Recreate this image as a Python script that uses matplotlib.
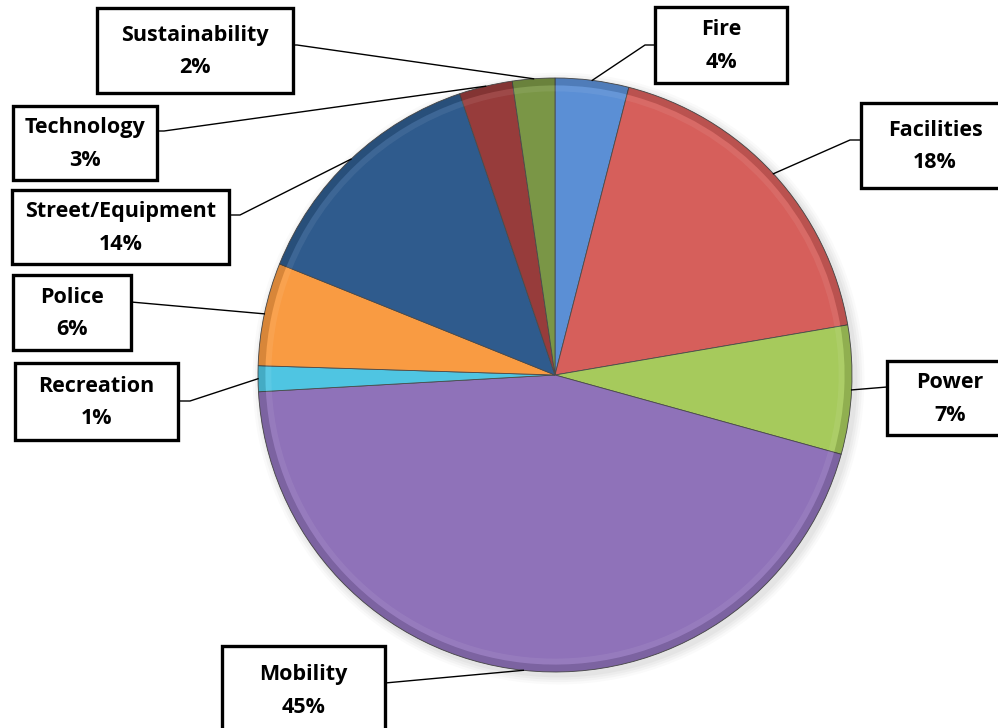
import numpy as np
import matplotlib
import matplotlib.pyplot as plt
from matplotlib.patches import Rectangle, Circle, Wedge

matplotlib.rc('font', family=['Open Sans', 'DejaVu Sans'], weight='bold')

# data (clockwise from 12 o'clock)
categories = ['Fire', 'Facilities', 'Power', 'Mobility', 'Recreation',
              'Police', 'Street/Equipment', 'Technology', 'Sustainability']
shares = [4.0, 18.3, 7.0, 44.8, 1.4, 5.6, 13.7, 2.9, 2.3]
colors = ['#5b8fd5', '#d65f5b', '#a6ca5c', '#8f72b9', '#4fc5e2',
          '#f99b42', '#2f5b8d', '#973c3b', '#7a9646']

# layout in pixels of the 998x728 picture (x0, y0, x1, y1), y downward
W, H = 998, 728
cx, cy, R = 555, 375, 297
boxes = {
    'Fire': (655, 7, 787, 83),
    'Facilities': (861, 103, 1009, 188),
    'Power': (887, 361, 1013, 435),
    'Mobility': (222, 646, 385, 734),
    'Recreation': (15, 363, 178, 440),
    'Police': (13, 275, 131, 350),
    'Street/Equipment': (12, 190, 229, 264),
    'Technology': (13, 106, 157, 180),
    'Sustainability': (97, 8, 293, 93),
}
# leader: point on box edge, then elbow (or None)
leaders = {
    'Fire': ((655, 45), (645, 45)),
    'Facilities': ((861, 140), (850, 140)),
    'Power': ((887, 387), None),
    'Mobility': ((385, 683), None),
    'Recreation': ((178, 401), (190, 401)),
    'Police': ((131, 302), None),
    'Street/Equipment': ((229, 215), (240, 215)),
    'Technology': ((157, 131), (164, 131)),
    'Sustainability': ((293, 45), (297, 45)),
}


def px(p):
    return ((p[0] - cx) / R, (cy - p[1]) / R)


fig = plt.figure(figsize=(W / 100, H / 100), dpi=100)
ax = fig.add_axes([0, 0, 1, 1])

# soft shadow round the pie
for i, a in enumerate([0.04, 0.05, 0.06, 0.07]):
    ax.add_patch(Circle((0.012, -0.012), 1.03 - i * 0.008, color='#808080',
                        alpha=a, lw=0, zorder=0))

wedges, _ = ax.pie(shares, colors=colors, startangle=90, counterclock=False,
                   radius=1, center=(0, 0), frame=True,
                   wedgeprops=dict(edgecolor='#4a4a4a', linewidth=0.6))
ax.set_xlim(-cx / R, (W - cx) / R)
ax.set_ylim((cy - H) / R, cy / R)
ax.set_aspect('equal')
ax.axis('off')

# bevel: darker rim and a faint light band inside it
for w in wedges:
    ax.add_patch(Wedge((0, 0), 1.0, w.theta1, w.theta2, width=0.025,
                       color='black', alpha=0.13, lw=0, zorder=3))
    ax.add_patch(Wedge((0, 0), 0.975, w.theta1, w.theta2, width=0.02,
                       color='white', alpha=0.07, lw=0, zorder=3))

for w, name, val in zip(wedges, categories, shares):
    x0, y0, x1, y1 = boxes[name]
    ax.add_patch(Rectangle(px((x0, y1)), (x1 - x0) / R, (y1 - y0) / R,
                           facecolor='white', edgecolor='black', lw=2.4,
                           zorder=5, clip_on=False))
    tx, ty = px(((x0 + x1) / 2, (y0 + y1) / 2 + 1))
    ax.text(tx, ty, f'{name}\n{val:.0f}%', ha='center', va='center',
            fontsize=15.5, fontweight='bold', linespacing=1.72, zorder=6)

    mid = np.deg2rad((w.theta1 + w.theta2) / 2)
    pts = [leaders[name][0]]
    if leaders[name][1] is not None:
        pts.append(leaders[name][1])
    xs = [px(p)[0] for p in pts] + [np.cos(mid)]
    ys = [px(p)[1] for p in pts] + [np.sin(mid)]
    ax.plot(xs, ys, color='black', lw=1.0, zorder=4)

fig.savefig('out.png', dpi=100)
